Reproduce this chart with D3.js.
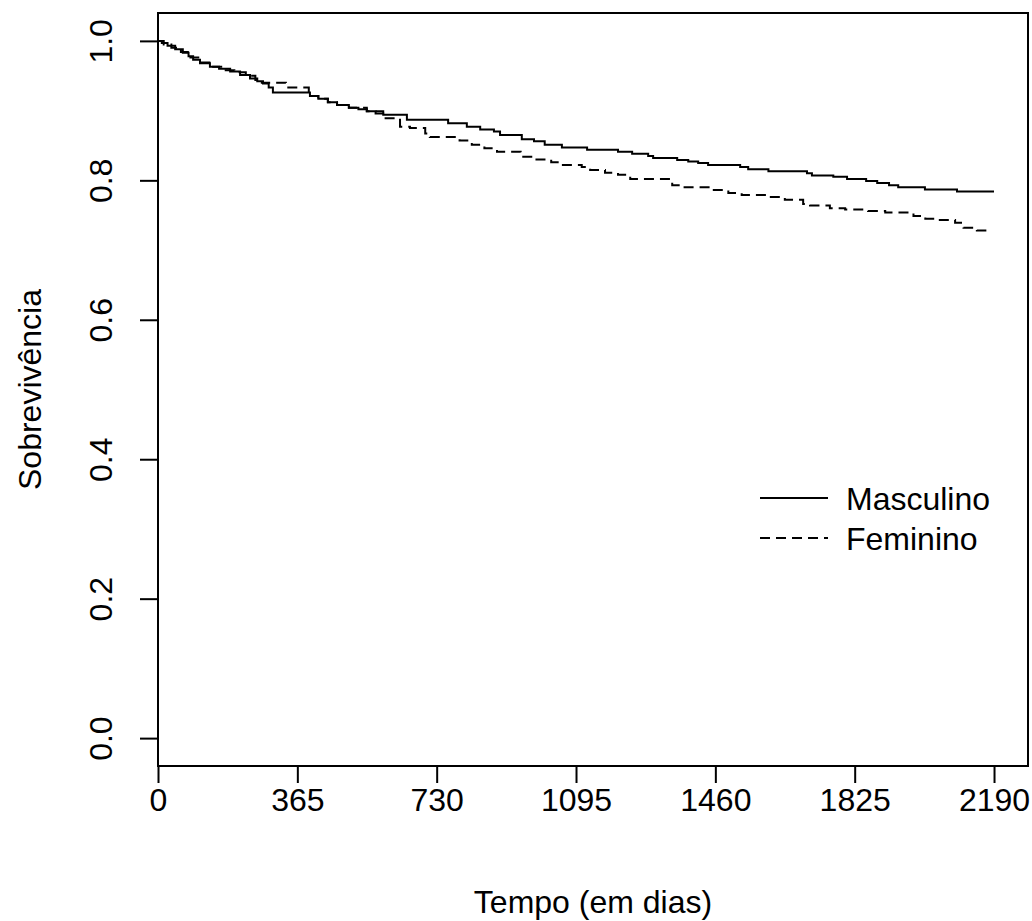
<!DOCTYPE html>
<html>
<head>
<meta charset="utf-8">
<script src="https://cdn.jsdelivr.net/npm/d3@7"></script>
<style>
  html, body { margin: 0; padding: 0; background: #fff; }
  svg { display: block; }
  text { font-family: "Liberation Sans", Arial, sans-serif; fill: #000; }
</style>
</head>
<body>
<svg id="chart" width="1032" height="921"></svg>
<script>
// ---- Data (Kaplan-Meier step curves) ----
const mascTimes = [0, 10, 25, 45, 65, 80, 92, 110, 136, 160, 189, 215, 241, 260, 275, 290, 301, 398, 420, 445, 469, 500, 525, 547, 570, 590, 652, 760, 809, 844, 880, 896, 953, 985, 1013, 1058, 1124, 1205, 1242, 1284, 1297, 1360, 1389, 1415, 1441, 1525, 1546, 1599, 1700, 1713, 1769, 1805, 1855, 1884, 1915, 1939, 2009, 2093, 2190];
const mascSurv  = [1.0, 0.997, 0.993, 0.988, 0.983, 0.978, 0.973, 0.968, 0.963, 0.960, 0.956, 0.951, 0.946, 0.942, 0.939, 0.933, 0.926, 0.921, 0.917, 0.912, 0.908, 0.904, 0.902, 0.899, 0.896, 0.894, 0.887, 0.882, 0.877, 0.873, 0.870, 0.865, 0.859, 0.856, 0.851, 0.847, 0.844, 0.841, 0.838, 0.835, 0.832, 0.829, 0.827, 0.825, 0.822, 0.819, 0.816, 0.813, 0.810, 0.807, 0.805, 0.802, 0.799, 0.796, 0.793, 0.790, 0.787, 0.784, 0.784];

const femTimes = [0, 15, 35, 60, 85, 110, 140, 170, 200, 230, 255, 272, 335, 395, 420, 445, 469, 500, 547, 590, 634, 660, 700, 712, 790, 822, 855, 888, 950, 985, 1030, 1058, 1110, 1132, 1171, 1205, 1237, 1347, 1376, 1451, 1494, 1529, 1600, 1642, 1690, 1708, 1760, 1800, 1860, 1905, 1979, 2010, 2043, 2088, 2110, 2145, 2172];
const femSurv  = [1.0, 0.995, 0.990, 0.984, 0.976, 0.969, 0.963, 0.958, 0.955, 0.950, 0.944, 0.940, 0.933, 0.921, 0.917, 0.912, 0.908, 0.904, 0.899, 0.889, 0.877, 0.875, 0.867, 0.862, 0.857, 0.851, 0.846, 0.841, 0.834, 0.830, 0.826, 0.822, 0.819, 0.815, 0.811, 0.808, 0.802, 0.793, 0.790, 0.786, 0.782, 0.779, 0.776, 0.772, 0.766, 0.764, 0.760, 0.758, 0.756, 0.754, 0.749, 0.745, 0.743, 0.739, 0.732, 0.728, 0.728];

const seriesNames = ["Masculino", "Feminino"];
const xTicks = [0, 365, 730, 1095, 1460, 1825, 2190];
const yTicks = [0.0, 0.2, 0.4, 0.6, 0.8, 1.0];
const xTitle = "Tempo (em dias)";
const yTitle = "Sobrevivência";

// ---- Layout ----
const svg = d3.select("#chart");
const box = { left: 158, right: 1028, top: 13, bottom: 766 };
const x = d3.scaleLinear().domain([0, 2279]).range([box.left, box.right]);
const y = d3.scaleLinear().domain([-0.04, 1.04]).range([box.bottom, box.top]);
const fontSize = 32;
const lw = 2;

// ---- Curves ----
const series = [
  { name: seriesNames[0], pts: mascTimes.map((t, i) => [t, mascSurv[i]]), dash: null },
  { name: seriesNames[1], pts: femTimes.map((t, i) => [t, femSurv[i]]), dash: "10,6" }
];
const line = d3.line().x(d => x(d[0])).y(d => y(d[1])).curve(d3.curveStepAfter);
series.forEach(s => {
  svg.append("path")
    .attr("d", line(s.pts))
    .attr("fill", "none")
    .attr("stroke", "#000")
    .attr("stroke-width", lw)
    .attr("stroke-dasharray", s.dash);
});

// ---- Box ----
svg.append("rect")
  .attr("x", box.left).attr("y", box.top)
  .attr("width", box.right - box.left).attr("height", box.bottom - box.top)
  .attr("fill", "none").attr("stroke", "#000").attr("stroke-width", lw);

// ---- X axis ----
const xAxis = d3.axisBottom(x).tickValues(xTicks).tickSize(17).tickPadding(0).tickFormat(d3.format("d"));
const gx = svg.append("g").attr("transform", `translate(0,${box.bottom})`).call(xAxis);
gx.select(".domain").remove();
gx.selectAll(".tick line").attr("stroke", "#000").attr("stroke-width", lw);
gx.selectAll(".tick text")
  .attr("y", 45).attr("dy", null)
  .style("font-size", fontSize + "px")
  .style("font-family", '"Liberation Sans", Arial, sans-serif');

// ---- Y axis ----
const yAxis = d3.axisLeft(y).tickValues(yTicks).tickSize(18).tickPadding(0).tickFormat(d3.format(".1f"));
const gy = svg.append("g").attr("transform", `translate(${box.left},0)`).call(yAxis);
gy.select(".domain").remove();
gy.selectAll(".tick line").attr("stroke", "#000").attr("stroke-width", lw);
gy.selectAll(".tick text")
  .attr("x", null).attr("dy", null)
  .attr("text-anchor", "middle")
  .attr("transform", "translate(-46,0) rotate(-90)")
  .style("font-size", fontSize + "px")
  .style("font-family", '"Liberation Sans", Arial, sans-serif');

// ---- Titles ----
svg.append("text")
  .attr("x", (box.left + box.right) / 2).attr("y", 913)
  .attr("text-anchor", "middle")
  .style("font-size", fontSize + "px")
  .text(xTitle);
svg.append("text")
  .attr("transform", `translate(41,${(box.top + box.bottom) / 2}) rotate(-90)`)
  .attr("text-anchor", "middle")
  .style("font-size", fontSize + "px")
  .text(yTitle);

// ---- Legend ----
const legend = svg.append("g").attr("transform", "translate(760,498)");
series.forEach((s, i) => {
  const row = legend.append("g").attr("transform", `translate(0,${i * 40})`);
  row.append("line")
    .attr("x1", 0).attr("x2", 68).attr("y1", 0).attr("y2", 0)
    .attr("stroke", "#000").attr("stroke-width", lw)
    .attr("stroke-dasharray", s.dash);
  row.append("text")
    .attr("x", 86).attr("y", 0).attr("dy", "0.36em")
    .style("font-size", fontSize + "px")
    .text(s.name);
});
</script>
</body>
</html>
